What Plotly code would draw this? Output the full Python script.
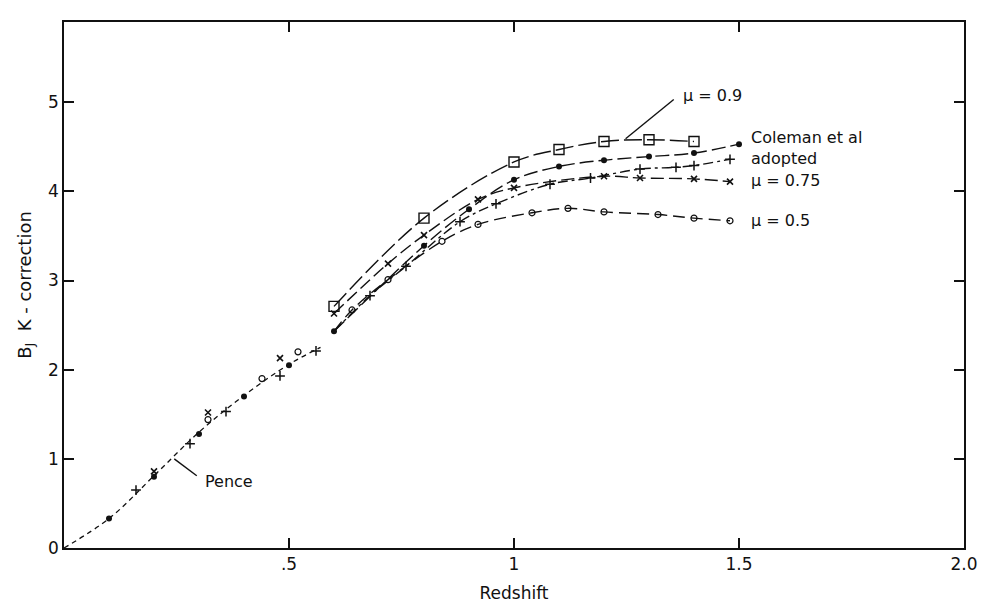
import plotly.graph_objects as go

# Coleman et al. K-corrections (filled dots)
coleman_z = [0.10, 0.20, 0.30, 0.40, 0.50, 0.60, 0.80, 0.90, 1.00, 1.10, 1.20, 1.30, 1.40, 1.50]
coleman_k = [0.33, 0.80, 1.28, 1.70, 2.05, 2.43, 3.39, 3.80, 4.13, 4.28, 4.35, 4.39, 4.43, 4.53]

# mu = 0.9 model (open squares)
mu09_z = [0.60, 0.80, 1.00, 1.10, 1.20, 1.30, 1.40]
mu09_k = [2.71, 3.70, 4.33, 4.47, 4.56, 4.58, 4.56]

# mu = 0.75 model (crosses)
mu075_z = [0.20, 0.32, 0.48, 0.60, 0.72, 0.80, 0.92, 1.00, 1.20, 1.28, 1.40, 1.48]
mu075_k = [0.86, 1.52, 2.13, 2.63, 3.19, 3.51, 3.91, 4.04, 4.17, 4.15, 4.14, 4.11]

# adopted values (plus signs)
adopt_z = [0.16, 0.28, 0.36, 0.48, 0.56, 0.68, 0.76, 0.88, 0.96, 1.08, 1.17, 1.28, 1.36, 1.40, 1.48]
adopt_k = [0.65, 1.17, 1.53, 1.93, 2.21, 2.83, 3.16, 3.66, 3.86, 4.08, 4.15, 4.25, 4.27, 4.29, 4.36]

# mu = 0.5 model (open circles)
mu05_z = [0.32, 0.44, 0.52, 0.64, 0.72, 0.84, 0.92, 1.04, 1.12, 1.20, 1.32, 1.40, 1.48]
mu05_k = [1.44, 1.90, 2.20, 2.67, 3.01, 3.44, 3.63, 3.76, 3.81, 3.77, 3.74, 3.70, 3.67]

# Pence low-redshift curve
pence_z = [0.0, 0.10, 0.20, 0.30, 0.40, 0.50, 0.57]
pence_k = [0.0, 0.33, 0.81, 1.30, 1.71, 2.06, 2.25]

x_tickvals = [0.5, 1.0, 1.5, 2.0]
x_ticktext = [".5", "1", "1.5", "2.0"]
y_tickvals = [0, 1, 2, 3, 4, 5]
y_ticktext = ["0", "1", "2", "3", "4", "5"]

FONT = "DejaVu Sans"
INK = "#111111"

fig = go.Figure()

# Pence curve: short dashes
fig.add_trace(go.Scatter(x=pence_z, y=pence_k, mode="lines",
                         line=dict(color=INK, width=1.3, dash="5px,4px", shape="spline"),
                         hoverinfo="skip", showlegend=False))


def high_z(z, k, start=None):
    """Points at z >= 0.6, optionally starting from a shared point."""
    zz = [a for a in z if a >= 0.595]
    kk = [b for a, b in zip(z, k) if a >= 0.595]
    if start is not None:
        zz = [start[0]] + zz
        kk = [start[1]] + kk
    return zz, kk


shared_start = (coleman_z[5], coleman_k[5])

curves = [
    (mu09_z, mu09_k, None, "18px,5px"),
    (coleman_z, coleman_k, None, "14px,5px"),
    (mu075_z, mu075_k, None, "13px,5px"),
    (adopt_z, adopt_k, shared_start, "10px,4px,3px,4px"),
    (mu05_z, mu05_k, shared_start, "12px,6px"),
]
for z, k, start, dash in curves:
    zz, kk = high_z(z, k, start)
    fig.add_trace(go.Scatter(x=zz, y=kk, mode="lines",
                             line=dict(color=INK, width=1.4, dash=dash, shape="spline",
                                       smoothing=1.0),
                             hoverinfo="skip", showlegend=False))

# markers
markers = [
    (mu09_z, mu09_k, dict(symbol="square-open", size=10, color=INK, line=dict(width=1.4))),
    (coleman_z, coleman_k, dict(symbol="circle", size=6, color=INK)),
    (mu075_z, mu075_k, dict(symbol="x-thin-open", size=6, color=INK, line=dict(width=1.6, color=INK))),
    (adopt_z, adopt_k, dict(symbol="cross-thin-open", size=7, color=INK, line=dict(width=1.5, color=INK))),
    (mu05_z, mu05_k, dict(symbol="circle-open", size=6, color=INK, line=dict(width=1.2))),
]
for z, k, m in markers:
    fig.add_trace(go.Scatter(x=z, y=k, mode="markers", marker=m,
                             cliponaxis=False, hoverinfo="skip", showlegend=False))

# leader lines
fig.add_shape(type="line", x0=1.248, y0=4.59, x1=1.355, y1=5.03,
              line=dict(color=INK, width=1.4))
fig.add_shape(type="line", x0=0.245, y0=1.00, x1=0.295, y1=0.81,
              line=dict(color=INK, width=1.4))

tf = dict(family=FONT, size=16, color=INK)
notes = [
    (1.37, 5.08, "\u03bc = 0.9"),
    (1.523, 4.60, "Coleman et al"),
    (1.523, 4.37, "adopted"),
    (1.523, 4.12, "\u03bc = 0.75"),
    (1.523, 3.67, "\u03bc = 0.5"),
    (0.308, 0.75, "Pence"),
]
for x, y, t in notes:
    fig.add_annotation(x=x, y=y, text=t, showarrow=False, xanchor="left",
                       yanchor="middle", font=tf)

axis_common = dict(showline=True, linecolor=INK, linewidth=1.6, mirror="ticks",
                   ticks="inside", ticklen=10, tickwidth=1.5, tickcolor=INK,
                   showgrid=False, zeroline=False,
                   tickfont=dict(family=FONT, size=17, color=INK))

fig.update_xaxes(range=[0, 2.0], tickvals=x_tickvals, ticktext=x_ticktext,
                 title=dict(text="Redshift", font=dict(family=FONT, size=17, color=INK),
                            standoff=14),
                 **axis_common)
fig.update_yaxes(range=[0, 5.9], tickvals=y_tickvals, ticktext=y_ticktext,
                 title=dict(text="B<sub>J</sub>  K - correction",
                            font=dict(family=FONT, size=18, color=INK), standoff=12),
                 **axis_common)

fig.update_layout(width=990, height=612,
                  margin=dict(l=64, r=22, t=22, b=59),
                  paper_bgcolor="white", plot_bgcolor="white")

fig.write_html("out.html")
